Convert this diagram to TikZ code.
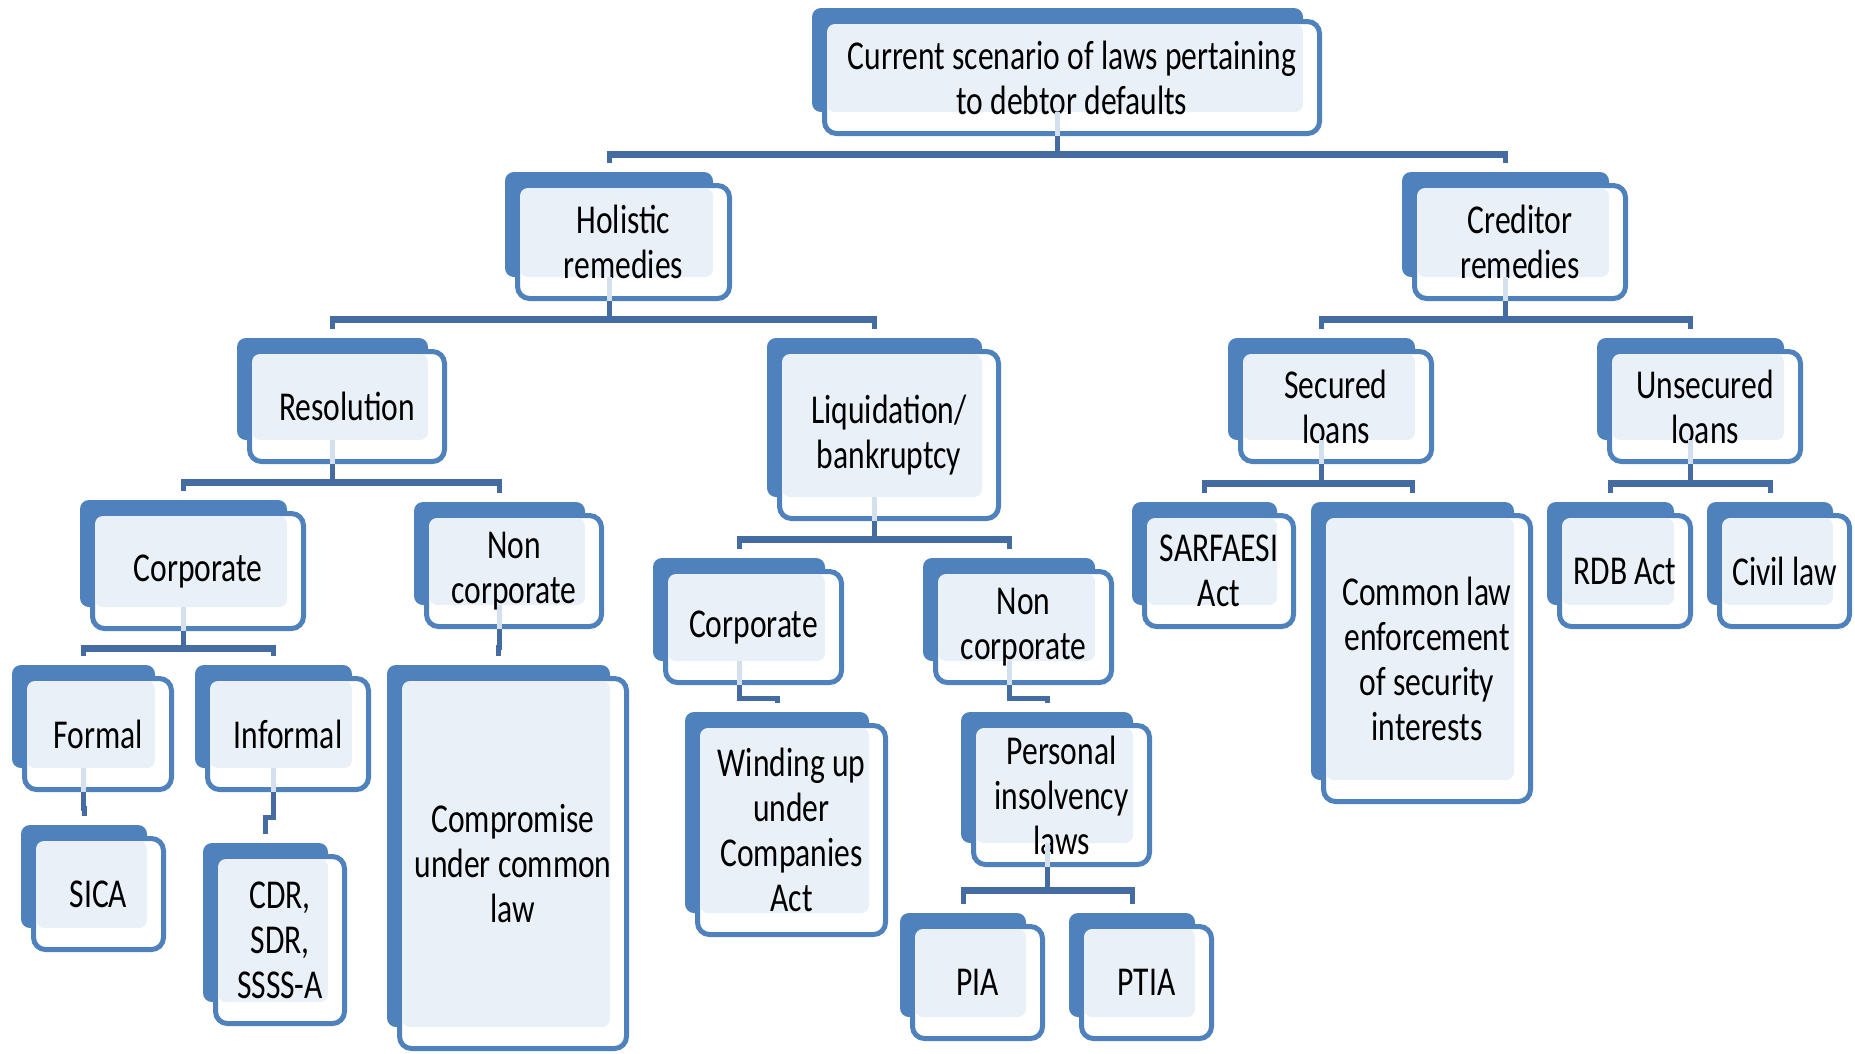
\documentclass[tikz,border=0pt]{standalone}
\usepackage{fontspec}
\setmainfont{Carlito}[FakeStretch=0.77]
\usetikzlibrary{calc}

\definecolor{boxblue}{HTML}{4F81BD}
\definecolor{paneltint}{HTML}{EAF0F8}
\definecolor{linkblue}{HTML}{456CA0}
\definecolor{stemtint}{HTML}{D5E0EE}

\tikzset{
  backbox/.style={fill=boxblue, draw=none, rounded corners=9pt, inner sep=0pt, outer sep=0pt},
  frontbox/.style={fill=white, draw=boxblue, line width=5pt, rounded corners=12pt, inner sep=0pt},
  tintbox/.style={fill=paneltint, draw=none, rounded corners=8pt, inner sep=0pt, outer sep=0pt},
  lbl/.style={font=\fontsize{41}{45}\selectfont, align=center, inner sep=0pt, text=black},
  palestem/.style={draw=stemtint, line width=5pt},
  stemline/.style={draw=linkblue, line width=5pt},
  barline/.style={draw=linkblue, line width=7pt, shorten <=-2.5pt, shorten >=-2.5pt},
  dropline/.style={draw=linkblue, line width=5pt}
}

% #1 name, #2..#5 corners of the back panel (x1,y1,x2,y2), #6 text
\newcommand{\lawbox}[6]{%
  \node[backbox, minimum width={(#4-#2)*1pt}, minimum height={(#5-#3)*1pt}]
    (#1-b) at ({(#2+#4)/2},{(#3+#5)/2}) {};
  \node[frontbox, minimum width={(#4-#2+4)*1pt}, minimum height={(#5-#3+8)*1pt}]
    (#1) at ({(#2+#4)/2+14.5},{(#3+#5)/2+17.5}) {};
  \node[tintbox, minimum width={(#4-#2-15)*1pt}, minimum height={(#5-#3-16)*1pt}]
    (#1-p) at ({(#2+#4)/2+7.5},{(#3+#5)/2+8}) {};
  \node[lbl] (#1-t) at (#1.center) {#6};
}

% faint stem inside a parent box
\newcommand{\innerstem}[1]{%
  \draw[palestem] (#1-b.south) -- (#1-b.south |- #1.south);
}

% parent with two children: stem, bar, drops
\newcommand{\treefork}[3]{%
  \innerstem{#1}
  \coordinate (#1-bar) at ($(#1.south)!0.5!(#2-b.north)$);
  \draw[stemline] (#1-b.south |- #1.south) -- (#1-b.south |- #1-bar);
  \draw[barline] (#2-b.north |- #1-bar) -- (#3-b.north |- #1-bar);
  \draw[dropline] (#2-b.north |- #1-bar) -- ([yshift=9pt]#2-b.north);
  \draw[dropline] (#3-b.north |- #1-bar) -- ([yshift=9pt]#3-b.north);
}

% parent with a single child
\newcommand{\treelink}[2]{%
  \innerstem{#1}
  \coordinate (#1-bar) at ($(#1.south)!0.5!(#2-b.north)$);
  \draw[dropline] (#1-b.south |- #1.south) -- (#1-b.south |- #1-bar)
    -| ([yshift=9pt]#2-b.north);
}

\begin{document}
\begin{tikzpicture}[x=1pt, y=-1pt]
  \useasboundingbox[fill=white] (0,0) rectangle (1855,1053);

  % boxes
  \lawbox{root}{812}{8}{1303}{112}{Current scenario of laws pertaining\\to debtor defaults}
  \lawbox{holistic}{505}{172}{713}{277}{Holistic\\remedies}
  \lawbox{creditor}{1402}{172}{1609}{277}{Creditor\\remedies}
  \lawbox{resolution}{237}{338}{428}{440}{Resolution}
  \lawbox{liquidation}{767}{338}{982}{497}{Liquidation/\\bankruptcy}
  \lawbox{secured}{1228}{338}{1415}{440}{Secured\\loans}
  \lawbox{unsecured}{1597}{338}{1784}{440}{Unsecured\\loans}
  \lawbox{rcorp}{80}{500}{287}{607}{Corporate}
  \lawbox{rnoncorp}{414}{502}{585}{605}{Non\\corporate}
  \lawbox{lcorp}{653}{558}{825}{661}{Corporate}
  \lawbox{lnoncorp}{923}{558}{1095}{661}{Non\\corporate}
  \lawbox{sarfaesi}{1132}{502}{1277}{605}{SARFAESI\\Act}
  \lawbox{common}{1311}{502}{1514}{780}{Common law\\enforcement\\of security\\interests}
  \lawbox{rdb}{1547}{502}{1674}{605}{RDB Act}
  \lawbox{civil}{1707}{502}{1833}{605}{Civil law}
  \lawbox{formal}{12}{665}{155}{768}{Formal}
  \lawbox{informal}{195}{665}{352}{768}{Informal}
  \lawbox{sica}{21}{825}{147}{928}{SICA}
  \lawbox{cdr}{203}{843}{328}{1002}{CDR,\\SDR,\\SSSS-A}
  \lawbox{compromise}{387}{665}{610}{1027}{Compromise\\under common\\law}
  \lawbox{winding}{685}{712}{869}{913}{Winding up\\under\\Companies\\Act}
  \lawbox{personal}{961}{712}{1133}{843}{Personal\\insolvency\\laws}
  \lawbox{pia}{900}{913}{1026}{1017}{PIA}
  \lawbox{ptia}{1069}{913}{1195}{1017}{PTIA}

  % connectors
  \treefork{root}{holistic}{creditor}
  \treefork{holistic}{resolution}{liquidation}
  \treefork{creditor}{secured}{unsecured}
  \treefork{resolution}{rcorp}{rnoncorp}
  \treefork{liquidation}{lcorp}{lnoncorp}
  \treefork{secured}{sarfaesi}{common}
  \treefork{unsecured}{rdb}{civil}
  \treefork{rcorp}{formal}{informal}
  \treefork{personal}{pia}{ptia}
  \treelink{rnoncorp}{compromise}
  \treelink{lcorp}{winding}
  \treelink{lnoncorp}{personal}
  \treelink{formal}{sica}
  \treelink{informal}{cdr}
\end{tikzpicture}
\end{document}
